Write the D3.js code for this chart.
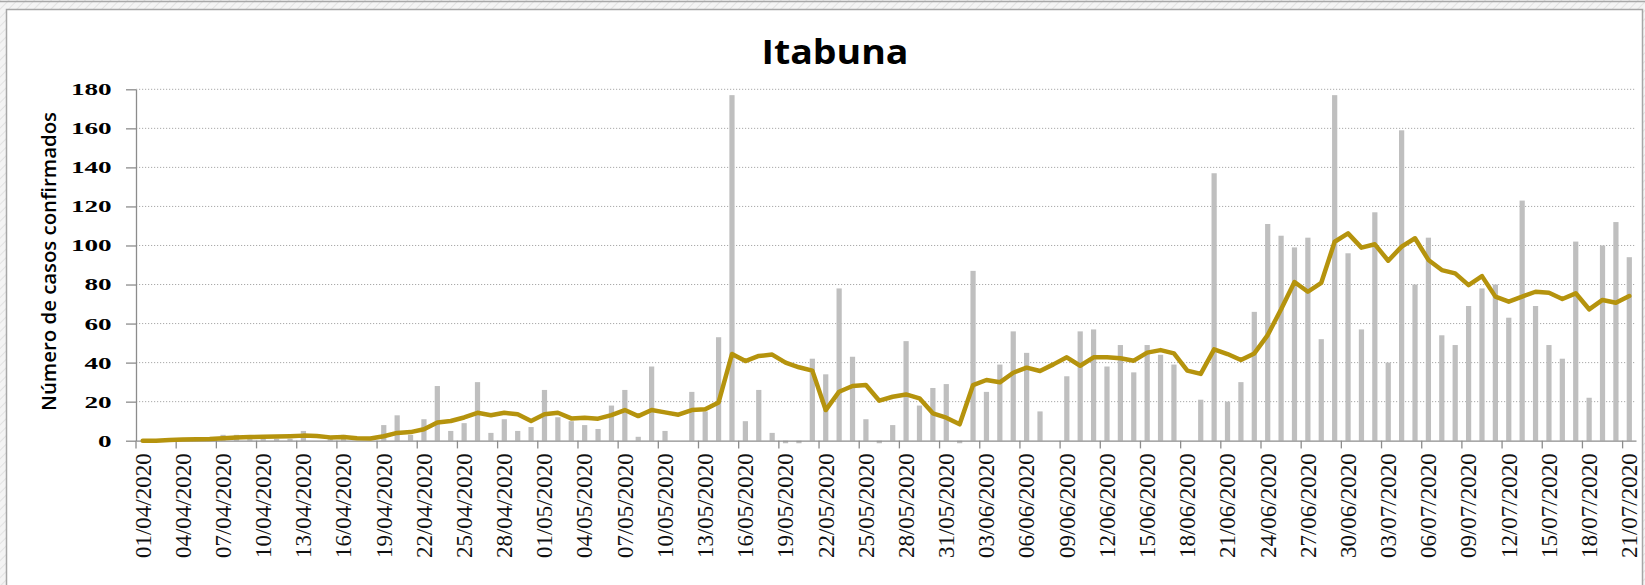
<!DOCTYPE html>
<html>
<head>
<meta charset="utf-8">
<script src="https://cdn.jsdelivr.net/npm/d3@7"></script>
<style>
  body { margin: 0; background: #ffffff; }
  svg { display: block; }
</style>
</head>
<body>
<svg id="chart" width="1645" height="585"></svg>
<script>
const chartTitle = "Itabuna";
const yAxisTitle = "Número de casos confirmados";

const categories = [
  "01/04/2020","02/04/2020","03/04/2020","04/04/2020","05/04/2020","06/04/2020","07/04/2020","08/04/2020","09/04/2020","10/04/2020",
  "11/04/2020","12/04/2020","13/04/2020","14/04/2020","15/04/2020","16/04/2020","17/04/2020","18/04/2020","19/04/2020","20/04/2020",
  "21/04/2020","22/04/2020","23/04/2020","24/04/2020","25/04/2020","26/04/2020","27/04/2020","28/04/2020","29/04/2020","30/04/2020",
  "01/05/2020","02/05/2020","03/05/2020","04/05/2020","05/05/2020","06/05/2020","07/05/2020","08/05/2020","09/05/2020","10/05/2020",
  "11/05/2020","12/05/2020","13/05/2020","14/05/2020","15/05/2020","16/05/2020","17/05/2020","18/05/2020","19/05/2020","20/05/2020",
  "21/05/2020","22/05/2020","23/05/2020","24/05/2020","25/05/2020","26/05/2020","27/05/2020","28/05/2020","29/05/2020","30/05/2020",
  "31/05/2020","01/06/2020","02/06/2020","03/06/2020","04/06/2020","05/06/2020","06/06/2020","07/06/2020","08/06/2020","09/06/2020",
  "10/06/2020","11/06/2020","12/06/2020","13/06/2020","14/06/2020","15/06/2020","16/06/2020","17/06/2020","18/06/2020","19/06/2020",
  "20/06/2020","21/06/2020","22/06/2020","23/06/2020","24/06/2020","25/06/2020","26/06/2020","27/06/2020","28/06/2020","29/06/2020",
  "30/06/2020","01/07/2020","02/07/2020","03/07/2020","04/07/2020","05/07/2020","06/07/2020","07/07/2020","08/07/2020","09/07/2020",
  "10/07/2020","11/07/2020","12/07/2020","13/07/2020","14/07/2020","15/07/2020","16/07/2020","17/07/2020","18/07/2020","19/07/2020",
  "20/07/2020","21/07/2020"
];

// daily confirmed cases (grey bars)
const dailyCases = [
  0, 0, 1, 1, 0, 1, 3, 3, 1, 1,
  1, 1, 5, 0, 1, 3, 0, 0, 8, 13,
  3, 11, 28, 5, 9, 30, 4, 11, 5, 7,
  26, 12, 10, 8, 6, 18, 26, 2, 38, 5,
  0, 25, 15, 53, 177, 10, 26, 4, -5, -2,
  42, 34, 78, 43, 11, -62, 8, 51, 18, 27,
  29, -14, 87, 25, 39, 56, 45, 15, 0, 33,
  56, 57, 38, 49, 35, 49, 44, 39, 0, 21,
  137, 20, 30, 66, 111, 105, 99, 104, 52, 177,
  96, 57, 117, 40, 159, 80, 104, 54, 49, 69,
  78, 80, 63, 123, 69, 49, 42, 102, 22, 100,
  112, 94
];

// moving average (gold line)
const movingAverage = [
  0, 0, 0.3, 0.6, 0.7, 0.9, 1.3, 1.7, 1.9, 2.0,
  2.1, 2.3, 2.6, 2.4, 1.7, 1.9, 1.3, 1.1, 2.3, 4.0,
  4.4, 5.9, 9.3, 10.1, 11.9, 14.3, 13.0, 14.3, 13.5, 10.1,
  13.5, 14.3, 11.4, 11.8, 11.3, 13.1, 15.7, 12.6, 15.7, 14.5,
  13.3, 15.7, 16.1, 19.6, 44.4, 40.8, 43.4, 44.1, 40.0, 37.6,
  35.9, 15.7, 25.1, 28.0, 28.5, 20.5, 22.5, 23.7, 21.7, 14.0,
  11.8, 8.4, 28.5, 31.1, 29.9, 34.8, 37.4, 35.7, 39.1, 42.7,
  38.4, 42.7, 42.7, 42.2, 41.0, 45.1, 46.4, 44.7, 35.9, 34.2,
  46.8, 44.4, 41.3, 44.7, 54.1, 67.3, 81.3, 76.3, 80.9, 101.9,
  106.2, 98.9, 100.6, 92.2, 99.4, 103.7, 92.6, 87.4, 85.7, 79.7,
  84.3, 73.8, 71.2, 73.8, 76.3, 75.8, 72.6, 75.5, 67.3, 72.1,
  70.7, 74.1
];

const yTicks = [0, 20, 40, 60, 80, 100, 120, 140, 160, 180];
const xLabelEvery = 3;

// ---------- layout ----------
const W = 1645, H = 585;
const plot = { left: 136, right: 1636, top: 89.3, bottom: 440.7 };

const svg = d3.select("#chart");

// page background / frame
const defs = svg.append("defs");
const pat = defs.append("pattern")
  .attr("id", "hatch").attr("width", 6).attr("height", 6)
  .attr("patternUnits", "userSpaceOnUse").attr("patternTransform", "rotate(45)");
pat.append("rect").attr("width", 6).attr("height", 6).attr("fill", "#f4f4f4");
pat.append("line").attr("x1", 0).attr("y1", 0).attr("x2", 0).attr("y2", 6)
  .attr("stroke", "#e2e2e2").attr("stroke-width", 2);

svg.append("rect").attr("x", 0).attr("y", 0).attr("width", W).attr("height", H).attr("fill", "url(#hatch)");
svg.append("line").attr("x1", 0).attr("x2", W).attr("y1", 1.5).attr("y2", 1.5)
  .attr("stroke", "#a8a8a8").attr("stroke-width", 1.5);
svg.append("rect").attr("x", 6.5).attr("y", 9.5).attr("width", 1636).attr("height", 620)
  .attr("fill", "#ffffff").attr("stroke", "#a6a6a6").attr("stroke-width", 1.5);

// ---------- scales ----------
const x = d3.scaleBand().domain(categories).range([plot.left, plot.right]).padding(0);
const bw = x.bandwidth();
const barW = bw * 0.39;
const y = d3.scaleLinear().domain([0, 180]).range([plot.bottom, plot.top]);

defs.append("clipPath").attr("id", "plotClip")
  .append("rect").attr("x", plot.left).attr("y", plot.top - 2)
  .attr("width", plot.right - plot.left).attr("height", plot.bottom - plot.top + 4.5);

// gridlines
svg.append("g").selectAll("line")
  .data(yTicks.filter(t => t > 0))
  .join("line")
  .attr("x1", plot.left).attr("x2", plot.right)
  .attr("y1", d => y(d)).attr("y2", d => y(d))
  .attr("stroke", "#a9a9a9").attr("stroke-width", 1)
  .attr("stroke-dasharray", "1.2,1.8");

// bars
svg.append("g").attr("clip-path", "url(#plotClip)")
  .selectAll("rect")
  .data(dailyCases)
  .join("rect")
  .attr("x", (d, i) => x(categories[i]) + bw / 2 - barW / 2)
  .attr("width", barW)
  .attr("y", d => y(Math.max(0, d)))
  .attr("height", d => Math.abs(y(d) - y(0)))
  .attr("fill", "#bfbfbf");

// y axis
const yAxis = svg.append("g")
  .attr("transform", `translate(${plot.left},0)`)
  .call(d3.axisLeft(y).tickValues(yTicks).tickSize(10).tickSizeOuter(0));
yAxis.select(".domain").attr("stroke", "#8c8c8c").attr("stroke-width", 1.3);
yAxis.selectAll(".tick line").attr("stroke", "#8c8c8c").attr("stroke-width", 1.3);
yAxis.selectAll(".tick text")
  .attr("x", 0).attr("dy", "0.34em")
  .attr("transform", "translate(-24.3,0) scale(1.7,1)")
  .attr("fill", "#000")
  .style("font-family", "'Liberation Serif', serif")
  .style("font-weight", "bold")
  .style("font-size", "16px");

// x axis
const labelCats = categories.filter((c, i) => i % xLabelEvery === 0);
const xAxis = svg.append("g")
  .attr("transform", `translate(0,${plot.bottom})`)
  .call(d3.axisBottom(x).tickValues(labelCats).tickSize(7.7).tickSizeOuter(0));
xAxis.select(".domain").attr("stroke", "#8c8c8c").attr("stroke-width", 1.3);
xAxis.selectAll(".tick line")
  .attr("x1", -bw / 2).attr("x2", -bw / 2)
  .attr("stroke", "#8c8c8c").attr("stroke-width", 1.3);
xAxis.selectAll(".tick text")
  .attr("x", 0).attr("y", 0).attr("dy", "0.34em")
  .attr("transform", "translate(0,12.6) rotate(-90)")
  .attr("text-anchor", "end")
  .attr("fill", "#111")
  .style("font-family", "'Liberation Serif', serif")
  .style("font-size", "23px");

// moving average line
svg.append("path")
  .datum(movingAverage)
  .attr("d", d3.line()
    .x((d, i) => x(categories[i]) + bw / 2)
    .y(d => y(d)))
  .attr("fill", "none")
  .attr("stroke", "#b5930d")
  .attr("stroke-width", 4.5)
  .attr("stroke-linejoin", "round")
  .attr("stroke-linecap", "round");

// title
svg.append("text")
  .attr("x", 835).attr("y", 64)
  .attr("text-anchor", "middle")
  .attr("textLength", 147).attr("lengthAdjust", "spacingAndGlyphs")
  .style("font-family", "'Open Sans', sans-serif")
  .style("font-weight", "bold")
  .style("font-size", "34px")
  .attr("fill", "#000")
  .text(chartTitle);

// y axis title
svg.append("text")
  .attr("transform", "translate(55.5,261.5) rotate(-90)")
  .attr("text-anchor", "middle")
  .attr("textLength", 299).attr("lengthAdjust", "spacingAndGlyphs")
  .style("font-family", "'Open Sans', sans-serif")
  .style("font-weight", "600")
  .style("font-size", "19px")
  .attr("fill", "#000")
  .text(yAxisTitle);
</script>
</body>
</html>
